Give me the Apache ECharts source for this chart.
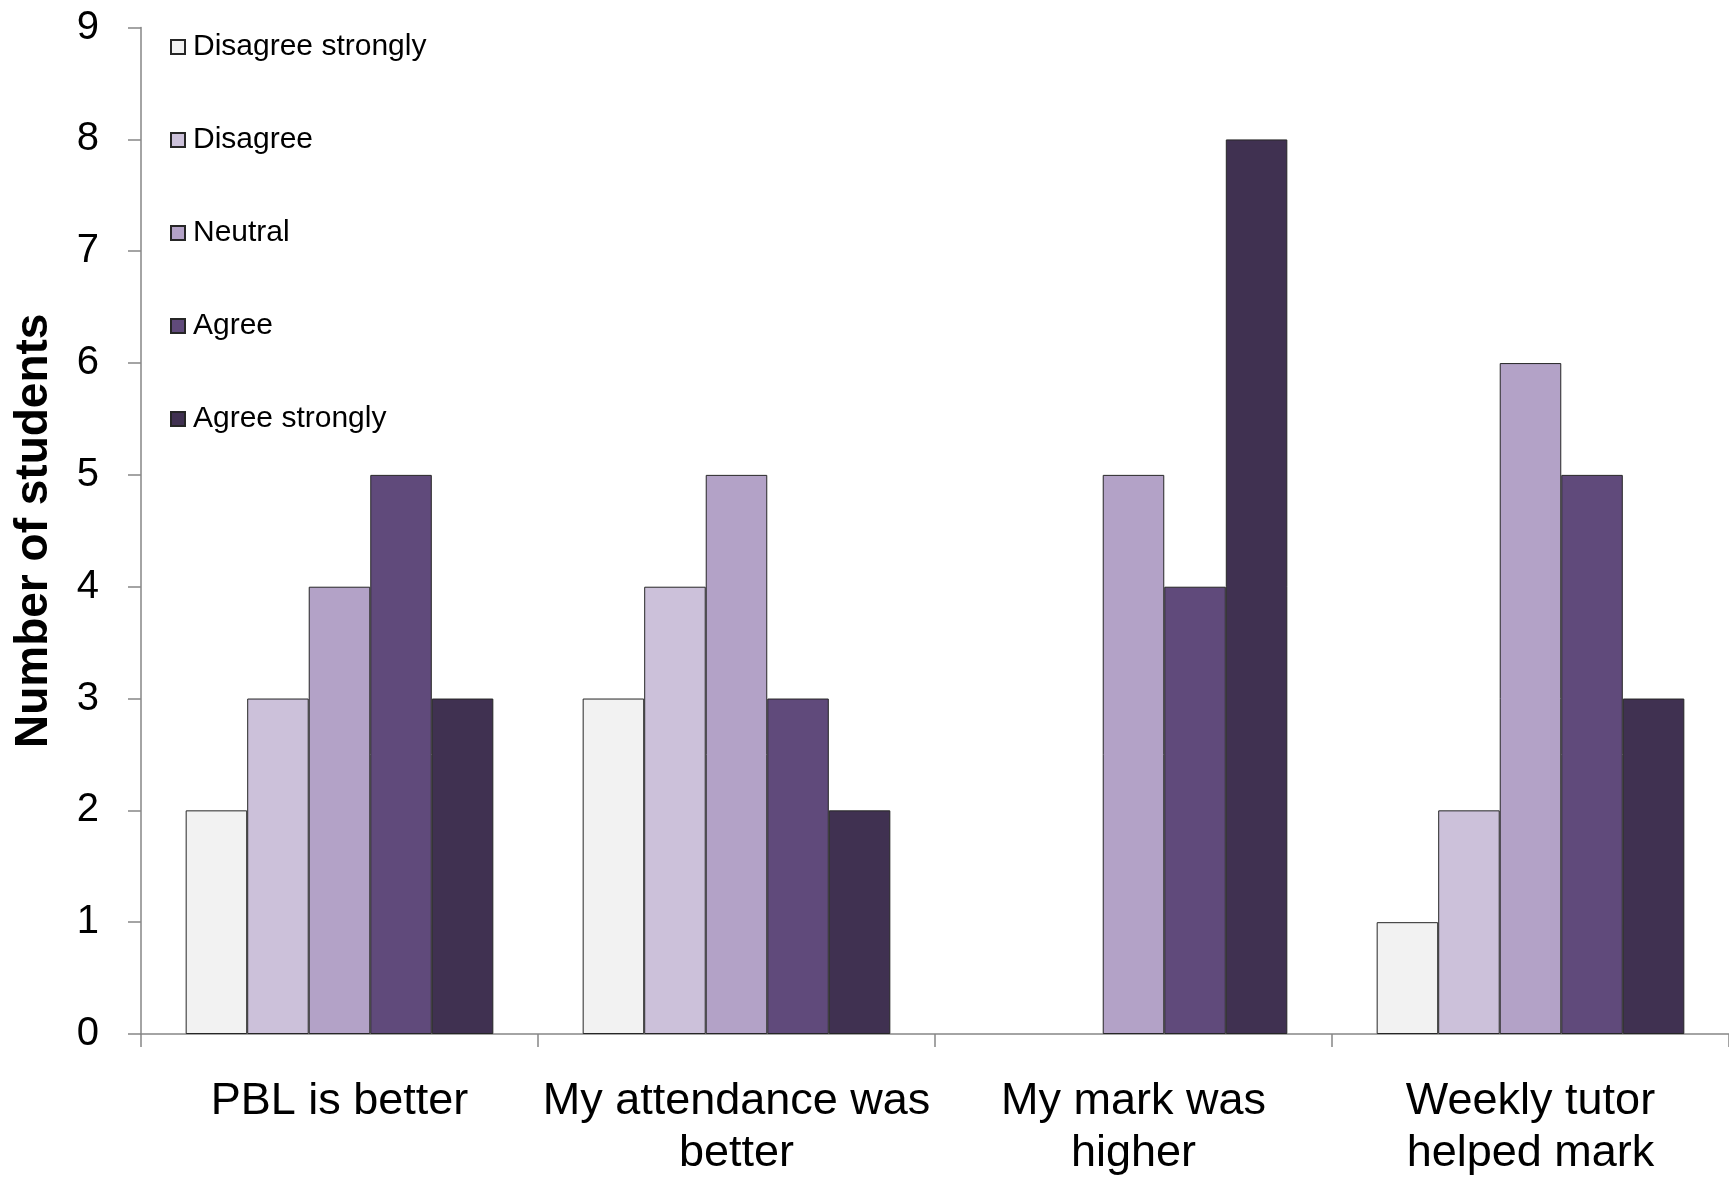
<!DOCTYPE html>
<html>
<head>
<meta charset="utf-8">
<script src="https://cdn.jsdelivr.net/npm/echarts@6/dist/echarts.min.js"></script>
<style>html,body{margin:0;padding:0;background:#fff}#c{width:1729px;height:1179px}</style>
</head>
<body>
<div id="c"></div>
<script>
const categories = ['PBL is better', 'My attendance was\nbetter', 'My mark was\nhigher', 'Weekly tutor\nhelped mark'];
const seriesNames = ['Disagree strongly', 'Disagree', 'Neutral', 'Agree', 'Agree strongly'];
const disagreeStrongly = [2, 3, 0, 1];
const disagree = [3, 4, 0, 2];
const neutral = [4, 5, 5, 6];
const agree = [5, 3, 4, 5];
const agreeStrongly = [3, 2, 8, 3];
const yTicks = [0, 1, 2, 3, 4, 5, 6, 7, 8, 9];
const colors = ['#F2F2F2', '#CCC1DA', '#B3A2C7', '#604A7B', '#403151'];

const values = [disagreeStrongly, disagree, neutral, agree, agreeStrongly];
const font = 'Liberation Sans, Arial, sans-serif';

const chart = echarts.init(document.getElementById('c'));
chart.setOption({
  animation: false,
  textStyle: { fontFamily: font },
  grid: { left: 141, right: 0, top: 27.6, bottom: 145, containLabel: false, outerBoundsMode: 'none' },
  legend: {
    orient: 'vertical',
    left: 165,
    top: 27,
    icon: 'rect',
    itemWidth: 14,
    itemHeight: 14,
    itemGap: 63,
    textStyle: { fontSize: 30, color: '#000', fontFamily: font, padding: [0, 0, 0, 3] },
    data: seriesNames
  },
  xAxis: {
    type: 'category',
    data: categories,
    axisLine: { lineStyle: { color: '#868686', width: 1.5 } },
    axisTick: { show: true, length: 13, lineStyle: { color: '#868686', width: 1.5 } },
    axisLabel: { fontSize: 45, color: '#000', margin: 42, lineHeight: 52, fontFamily: font, interval: 0 }
  },
  yAxis: {
    type: 'value',
    min: yTicks[0],
    max: yTicks[yTicks.length - 1],
    interval: 1,
    name: 'Number of students',
    nameLocation: 'middle',
    nameGap: 84,
    nameTextStyle: { fontSize: 46, fontWeight: 'bold', color: '#000', fontFamily: font },
    axisLine: { show: true, lineStyle: { color: '#868686', width: 1.5 } },
    axisTick: { show: true, length: 13, lineStyle: { color: '#868686', width: 1.5 } },
    splitLine: { show: false },
    axisLabel: { fontSize: 40, color: '#000', margin: 42, fontFamily: font }
  },
  series: seriesNames.map((n, i) => ({
    name: n,
    type: 'bar',
    data: values[i].map(v => v === 0 ? { value: v, itemStyle: { borderWidth: 0 } } : v),
    barGap: '0%',
    barCategoryGap: '22.5%',
    itemStyle: { color: colors[i], borderColor: '#262626', borderWidth: 1 }
  }))
});
</script>
</body>
</html>
